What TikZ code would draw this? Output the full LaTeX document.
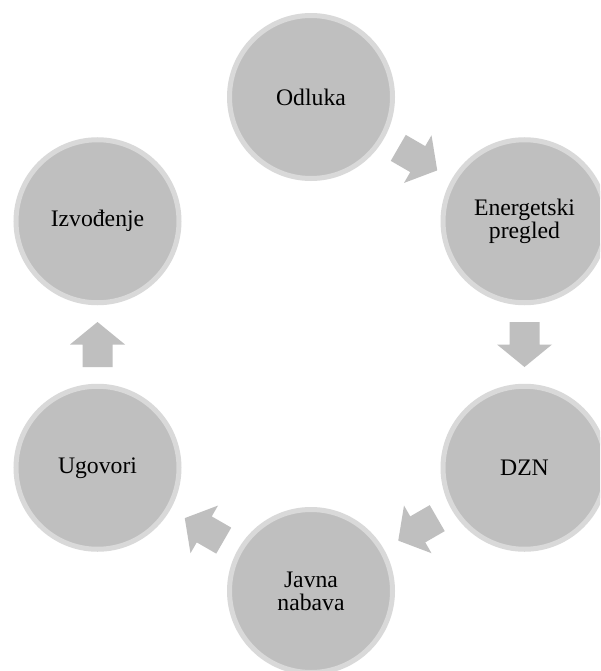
\documentclass[tikz,border=0pt]{standalone}
\usepackage{fontspec}
\setmainfont{Liberation Serif}
\usetikzlibrary{calc}
\definecolor{cfill}{HTML}{BFBFBF}
\definecolor{cring}{HTML}{D9D9D9}
\tikzset{
  stage/.style={circle, draw=cring, fill=cfill, line width=5pt, minimum size=163pt, inner sep=0pt,
    align=center, font=\fontsize{23.7}{22.7}\selectfont, text=black},
  blockarrow/.style={fill=cfill}
}
\newcommand{\blockarr}[2]{%
  \fill[blockarrow, shift={(#1)}, rotate=#2]
    (-22.5,-15) -- (0,-15) -- (0,-27.5) -- (22.5,0) -- (0,27.5) -- (0,15) -- (-22.5,15) -- cycle;}
\begin{document}
\begin{tikzpicture}[x=1pt,y=-1pt]
\useasboundingbox (0,0) rectangle (600,671);
\fill[white] (0,0) rectangle (600,671);
\begin{scope}
\clip (0,14) rectangle (600,671);
\node[stage] (odl) at (311,97) {Odluka};
\node[stage] (ene) at (524.5,221.25) {Energetski\\pregled};
\node[stage] (dzn) at (524.5,467.75) {DZN};
\node[stage] (jav) at (311,591) {Javna\\nabava};
\node[stage] (ugo) at (97.5,467.75) {Ugovori};
\node[stage] (izv) at (97.5,221.25) {Izvođenje};
\end{scope}
\coordinate (a1) at ($(odl)!0.5!(ene)$);
\coordinate (a2) at ($(ene)!0.5!(dzn)$);
\coordinate (a3) at ($(dzn)!0.5!(jav)$);
\coordinate (a4) at ($(jav)!0.5!(ugo)$);
\coordinate (a5) at ($(ugo)!0.5!(izv)$);
\blockarr{a1}{-30}
\blockarr{a2}{-90}
\blockarr{a3}{-150}
\blockarr{a4}{150}
\blockarr{a5}{90}
\end{tikzpicture}
\end{document}
